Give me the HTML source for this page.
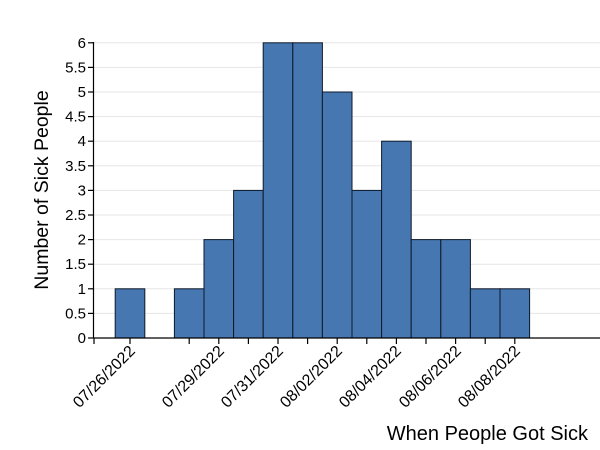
<!DOCTYPE html>
<html><head><meta charset="utf-8"><style>body{margin:0;background:#fff}svg{display:block}</style></head>
<body>
<svg width="600" height="450" xmlns="http://www.w3.org/2000/svg" font-family="Liberation Sans, sans-serif">
<g stroke="#e6e6e6" stroke-width="1">
<line x1="94" x2="600" y1="313.4" y2="313.4"/><line x1="94" x2="600" y1="288.8" y2="288.8"/>
<line x1="94" x2="600" y1="264.2" y2="264.2"/><line x1="94" x2="600" y1="239.6" y2="239.6"/>
<line x1="94" x2="600" y1="215" y2="215"/><line x1="94" x2="600" y1="190.4" y2="190.4"/>
<line x1="94" x2="600" y1="165.8" y2="165.8"/><line x1="94" x2="600" y1="141.2" y2="141.2"/>
<line x1="94" x2="600" y1="116.6" y2="116.6"/><line x1="94" x2="600" y1="92" y2="92"/>
<line x1="94" x2="600" y1="67.4" y2="67.4"/><line x1="94" x2="600" y1="42.8" y2="42.8"/>
</g>
<g fill="#4677b1" stroke="#0d1a2b" stroke-width="1">
<rect x="115.2" y="288.8" width="29.6" height="49.2"/>
<rect x="174.4" y="288.8" width="29.6" height="49.2"/>
<rect x="204" y="239.6" width="29.6" height="98.4"/>
<rect x="233.6" y="190.4" width="29.6" height="147.6"/>
<rect x="263.2" y="42.8" width="29.6" height="295.2"/>
<rect x="292.8" y="42.8" width="29.6" height="295.2"/>
<rect x="322.4" y="92" width="29.6" height="246"/>
<rect x="352" y="190.4" width="29.6" height="147.6"/>
<rect x="381.6" y="141.2" width="29.6" height="196.8"/>
<rect x="411.2" y="239.6" width="29.6" height="98.4"/>
<rect x="440.8" y="239.6" width="29.6" height="98.4"/>
<rect x="470.4" y="288.8" width="29.6" height="49.2"/>
<rect x="500" y="288.8" width="29.6" height="49.2"/>
</g>
<g stroke="#000" stroke-width="1.2">
<line x1="93.5" y1="42" x2="93.5" y2="338"/>
<line x1="93.5" y1="338" x2="600" y2="338"/>
<line x1="88" x2="93.5" y1="338" y2="338"/><line x1="88" x2="93.5" y1="313.4" y2="313.4"/>
<line x1="88" x2="93.5" y1="288.8" y2="288.8"/><line x1="88" x2="93.5" y1="264.2" y2="264.2"/>
<line x1="88" x2="93.5" y1="239.6" y2="239.6"/><line x1="88" x2="93.5" y1="215" y2="215"/>
<line x1="88" x2="93.5" y1="190.4" y2="190.4"/><line x1="88" x2="93.5" y1="165.8" y2="165.8"/>
<line x1="88" x2="93.5" y1="141.2" y2="141.2"/><line x1="88" x2="93.5" y1="116.6" y2="116.6"/>
<line x1="88" x2="93.5" y1="92" y2="92"/><line x1="88" x2="93.5" y1="67.4" y2="67.4"/>
<line x1="88" x2="93.5" y1="42.8" y2="42.8"/>
<line x1="94" x2="94" y1="338" y2="344"/>
<line x1="130" x2="130" y1="338" y2="344"/><line x1="189.2" x2="189.2" y1="338" y2="344"/>
<line x1="218.8" x2="218.8" y1="338" y2="344"/><line x1="248.4" x2="248.4" y1="338" y2="344"/>
<line x1="278" x2="278" y1="338" y2="344"/><line x1="307.6" x2="307.6" y1="338" y2="344"/>
<line x1="337.2" x2="337.2" y1="338" y2="344"/><line x1="366.8" x2="366.8" y1="338" y2="344"/>
<line x1="396.4" x2="396.4" y1="338" y2="344"/><line x1="426" x2="426" y1="338" y2="344"/>
<line x1="455.6" x2="455.6" y1="338" y2="344"/><line x1="485.2" x2="485.2" y1="338" y2="344"/>
<line x1="514.8" x2="514.8" y1="338" y2="344"/>
</g>
<g font-size="15" text-anchor="end" fill="#000">
<text x="86" y="343">0</text><text x="86" y="318.4">0.5</text><text x="86" y="293.8">1</text>
<text x="86" y="269.2">1.5</text><text x="86" y="244.6">2</text><text x="86" y="220">2.5</text>
<text x="86" y="195.4">3</text><text x="86" y="170.8">3.5</text><text x="86" y="146.2">4</text>
<text x="86" y="121.6">4.5</text><text x="86" y="97">5</text><text x="86" y="72.4">5.5</text>
<text x="86" y="47.8">6</text>
</g>
<g font-size="16" text-anchor="end" fill="#000">
<text transform="translate(136,352) rotate(-45)">07/26/2022</text>
<text transform="translate(225,352) rotate(-45)">07/29/2022</text>
<text transform="translate(284,352) rotate(-45)">07/31/2022</text>
<text transform="translate(343,352) rotate(-45)">08/02/2022</text>
<text transform="translate(402,352) rotate(-45)">08/04/2022</text>
<text transform="translate(462,352) rotate(-45)">08/06/2022</text>
<text transform="translate(521,352) rotate(-45)">08/08/2022</text>
</g>
<text transform="translate(48,190) rotate(-90)" font-size="19.5" text-anchor="middle">Number of Sick People</text>
<text x="588" y="440" font-size="20" text-anchor="end">When People Got Sick</text>
</svg>
</body></html>
